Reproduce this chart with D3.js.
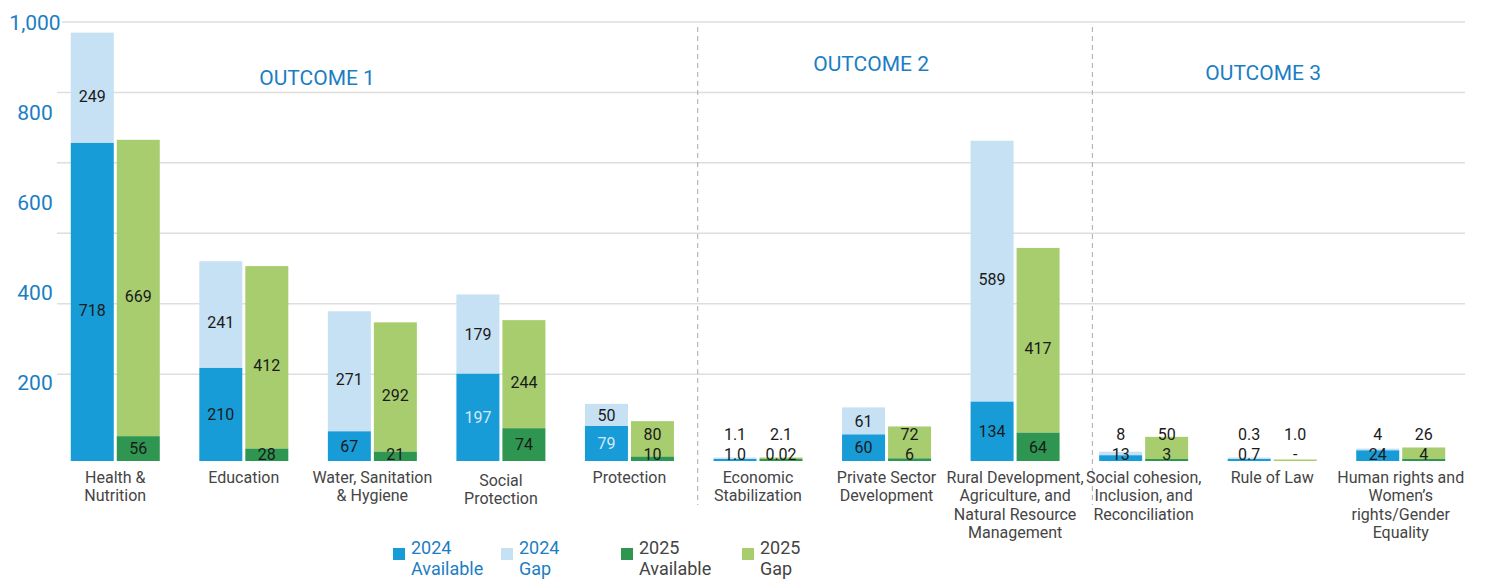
<!DOCTYPE html>
<html>
<head>
<meta charset="utf-8">
<script src="https://cdn.jsdelivr.net/npm/d3@7"></script>
<style>
  body { margin: 0; background: #fff; }
  svg { font-family: Roboto, "Noto Sans", sans-serif; }
</style>
</head>
<body>
<svg width="1491" height="579"></svg>
<script>
var categories = ["Health & Nutrition", "Education", "Water, Sanitation & Hygiene", "Social Protection",
  "Protection", "Economic Stabilization", "Private Sector Development",
  "Rural Development, Agriculture, and Natural Resource Management",
  "Social cohesion, Inclusion, and Reconciliation", "Rule of Law",
  "Human rights and Women’s rights/Gender Equality"];

var categoryLines = [
  ["Health &", "Nutrition"],
  ["Education"],
  ["Water, Sanitation", "& Hygiene"],
  ["Social", "Protection"],
  ["Protection"],
  ["Economic", "Stabilization"],
  ["Private Sector", "Development"],
  ["Rural Development,", "Agriculture, and", "Natural Resource", "Management"],
  ["Social cohesion,", "Inclusion, and", "Reconciliation"],
  ["Rule of Law"],
  ["Human rights and", "Women’s", "rights/Gender", "Equality"]
];

var avail2024 = [718, 210, 67, 197, 79, 1.0, 60, 134, 13, 0.7, 24];
var gap2024 = [249, 241, 271, 179, 50, 1.1, 61, 589, 8, 0.3, 4];
var avail2025 = [56, 28, 21, 74, 10, 0.02, 6, 64, 3, 0, 4];
var gap2025 = [669, 412, 292, 244, 80, 2.1, 72, 417, 50, 1.0, 26];

var yTickLabels = [200, 400, 600, 800, 1000];
var gridValues = [196, 355, 514, 673, 832, 991];

var outcomes = ["OUTCOME 1", "OUTCOME 2", "OUTCOME 3"];
var outcomeFirst = [0, 5, 8];

var seriesNames = [["2024", "Available"], ["2024", "Gap"], ["2025", "Available"], ["2025", "Gap"]];

var colors = {
  a24: "#189cd8",
  g24: "#c6e1f4",
  a25: "#2e9650",
  g25: "#a7cd6f"
};
var legendColors = [colors.a24, colors.g24, colors.a25, colors.g25];
var legendTextColors = ["#1b7ec3", "#1b7ec3", "#444", "#444"];
var lightLabels = ["Social Protection", "Protection"]; // 2024 available labels drawn light

var svg = d3.select("svg");
var baseline = 461;

var y = d3.scaleLinear().domain([0, 1000]).range([baseline, 18]);
// tick labels in the original sit on their own spacing
var yLab = d3.scaleLinear().domain([200, 1000]).range([382, 22]);

var x = d3.scaleBand().domain(categories).range([51, 1465]).padding(0);
var x1 = d3.scaleBand().domain(["2024", "2025"]).range([0, 89]).paddingInner(3 / 46);

var fmt = function (v) {
  if (v === 0) return "-";
  if (v < 0.1) return String(v);
  if (v < 3) return v.toFixed(1);
  return d3.format(",.0f")(v);
};

// gridlines
svg.append("g").selectAll("line")
  .data(gridValues)
  .enter().append("line")
  .attr("x1", function (d, i) { return i === gridValues.length - 1 ? 62 : 57; })
  .attr("x2", 1465)
  .attr("y1", function (d) { return y(d); })
  .attr("y2", function (d) { return y(d); })
  .attr("stroke", "#dedede")
  .attr("stroke-width", 1.5);

// y labels
svg.append("g").selectAll("text")
  .data(yTickLabels)
  .enter().append("text")
  .attr("x", 35)
  .attr("y", function (d) { return yLab(d); })
  .attr("dy", "0.36em")
  .attr("text-anchor", "middle")
  .attr("font-size", 21)
  .attr("fill", "#1b7ec3")
  .text(function (d) { return d3.format(",")(d); });

// outcome dividers
var step = x.step();
var dividerNudge = [4, 13];
svg.append("g").selectAll("line")
  .data(outcomeFirst.slice(1))
  .enter().append("line")
  .attr("x1", function (d, i) { return x(categories[d]) + dividerNudge[i]; })
  .attr("x2", function (d, i) { return x(categories[d]) + dividerNudge[i]; })
  .attr("y1", 27)
  .attr("y2", 505)
  .attr("stroke", "#aaa")
  .attr("stroke-width", 1)
  .attr("stroke-dasharray", "5,4");

// outcome titles
var outcomeLabelAt = [1.57, 5.88, 8.93];
var outcomeLabelY = [77, 63, 72];
svg.append("g").selectAll("text")
  .data(outcomes)
  .enter().append("text")
  .attr("x", function (d, i) { return x.range()[0] + (outcomeLabelAt[i] + 0.5) * step; })
  .attr("y", function (d, i) { return outcomeLabelY[i]; })
  .attr("dy", "0.36em")
  .attr("text-anchor", "middle")
  .attr("font-size", 21)
  .attr("fill", "#1b7ec3")
  .text(function (d) { return d; });

// bars
var years = [
  { key: "2024", avail: avail2024, gap: gap2024, ca: colors.a24, cg: colors.g24 },
  { key: "2025", avail: avail2025, gap: gap2025, ca: colors.a25, cg: colors.g25 }
];

var groups = svg.append("g").selectAll("g")
  .data(categories)
  .enter().append("g")
  .attr("transform", function (d) { return "translate(" + (x(d) + x.bandwidth() / 2 - 44.5) + ",0)"; });

groups.each(function (cat, ci) {
  var g = d3.select(this);
  years.forEach(function (yr) {
    var a = yr.avail[ci], gp = yr.gap[ci];
    var bx = x1(yr.key), bw = x1.bandwidth();
    var ha = a > 0 ? Math.max(baseline - y(a), 2) : 0;
    var hg = gp > 0 ? Math.max(baseline - y(gp), 1.5) : 0;
    var aTop = baseline - ha;
    var gTop = aTop - hg;

    g.append("rect")
      .attr("x", bx).attr("width", bw)
      .attr("y", gTop).attr("height", hg)
      .attr("fill", yr.cg);
    g.append("rect")
      .attr("x", bx).attr("width", bw)
      .attr("y", aTop).attr("height", ha)
      .attr("fill", yr.ca);

    var ay = Math.min(baseline - ha / 2 + (ha > 100 ? 8 : 0), 454);
    var gy = Math.min(aTop - hg / 2 + (hg > 100 ? 8 : 0), ay - 20);
    var light = yr.key === "2024" && lightLabels.indexOf(cat) >= 0;

    g.append("text")
      .attr("x", bx + bw / 2).attr("y", ay).attr("dy", "0.36em")
      .attr("text-anchor", "middle").attr("font-size", 16)
      .attr("fill", light ? "#d4e9f7" : "#1a1a1a")
      .text(fmt(a));
    g.append("text")
      .attr("x", bx + bw / 2).attr("y", gy).attr("dy", "0.36em")
      .attr("text-anchor", "middle").attr("font-size", 16)
      .attr("fill", "#1a1a1a")
      .text(fmt(gp));
  });
});

// category labels
svg.append("g").selectAll("text")
  .data(categories)
  .enter().append("text")
  .attr("x", function (d) { return x(d) + x.bandwidth() / 2; })
  .attr("y", function (d, i) { return i === 3 ? 480 : 477; })
  .attr("text-anchor", "middle")
  .attr("font-size", 16)
  .attr("fill", "#454545")
  .each(function (d, i) {
    var t = d3.select(this);
    var cx = x(d) + x.bandwidth() / 2;
    categoryLines[i].forEach(function (line, li) {
      t.append("tspan")
        .attr("x", cx)
        .attr("dy", li === 0 ? "0.36em" : "1.15em")
        .text(line);
    });
  });

// legend
var legendX = [393, 501, 621, 742];
var legend = svg.append("g").selectAll("g")
  .data(seriesNames)
  .enter().append("g")
  .attr("transform", function (d, i) { return "translate(" + legendX[i] + ",548)"; });

legend.append("rect")
  .attr("width", 12).attr("height", 12)
  .attr("fill", function (d, i) { return legendColors[i]; });

legend.append("text")
  .attr("x", 18)
  .attr("y", 0)
  .attr("font-size", 18)
  .attr("fill", function (d, i) { return legendTextColors[i]; })
  .each(function (d) {
    var t = d3.select(this);
    d.forEach(function (line, li) {
      t.append("tspan").attr("x", 18).attr("dy", li === 0 ? "0.36em" : "1.15em").text(line);
    });
  });
</script>
</body>
</html>
